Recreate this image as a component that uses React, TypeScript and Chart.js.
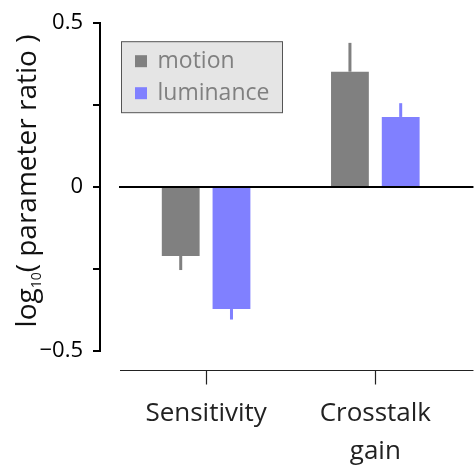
import { useEffect, useRef } from 'react';
import { Chart, registerables } from 'chart.js';

Chart.register(...registerables);

// Categories on a numeric x axis (0, 1) with their printed labels
const categoryPositions = [0, 1];
const categoryLabels = [['Sensitivity'], ['Crosstalk', 'gain']];

// Series: log10 parameter ratios and one-sided error extents
const seriesNames = ['motion', 'luminance'];
const seriesColors = ['#808080', '#8080ff'];
const motionValues = [-0.21, 0.352];
const motionErrors = [0.043, 0.088];
const luminanceValues = [-0.372, 0.214];
const luminanceErrors = [0.032, 0.042];

// Y axis ticks and which of them carry a label
const yTickValues = [-0.5, -0.25, 0, 0.25, 0.5];
const yTickLabels = ['\u22120.5', '', '0', '', '0.5'];

const FONT = "'Open Sans', sans-serif";

const errorsBySeries = [motionErrors, luminanceErrors];

const decorations = {
  id: 'decorations',
  afterDatasetsDraw(chart: any) {
    const { ctx, chartArea } = chart;
    const xs = chart.scales.x;
    const ys = chart.scales.y;
    ctx.save();

    // one-sided error bars extending away from zero
    chart.data.datasets.forEach((ds: any, i: number) => {
      const meta = chart.getDatasetMeta(i);
      const errs = errorsBySeries[i];
      meta.data.forEach((bar: any, j: number) => {
        const v = ds.data[j].y;
        const end = v + Math.sign(v) * errs[j];
        const yEnd = ys.getPixelForValue(end);
        const yStart = ys.getPixelForValue(v);
        ctx.fillStyle = ds.backgroundColor;
        ctx.fillRect(bar.x - 1.5, Math.min(yEnd, yStart), 3, Math.abs(yEnd - yStart));
      });
    });

    // zero reference line
    const y0 = Math.round(ys.getPixelForValue(0));
    ctx.strokeStyle = '#000';
    ctx.lineWidth = 2;
    ctx.beginPath();
    ctx.moveTo(chartArea.left + 19, y0);
    ctx.lineTo(chartArea.right, y0);
    ctx.stroke();

    // detached category axis below the plot
    const axisY = chartArea.bottom + 19.5;
    ctx.lineWidth = 1.2;
    ctx.strokeStyle = '#222';
    ctx.beginPath();
    ctx.moveTo(chartArea.left + 20, axisY);
    ctx.lineTo(chartArea.right, axisY);
    categoryPositions.forEach((p) => {
      const px = Math.round(xs.getPixelForValue(p)) + 0.5;
      ctx.moveTo(px, axisY);
      ctx.lineTo(px, axisY + 14);
    });
    ctx.stroke();
    ctx.restore();
  },
  afterDraw(chart: any) {
    const { ctx, chartArea } = chart;
    ctx.save();

    // legend box
    const bx = chartArea.left + 21.5;
    const by = chartArea.top + 18.5;
    ctx.fillStyle = '#e5e5e5';
    ctx.strokeStyle = '#555';
    ctx.lineWidth = 1;
    ctx.fillRect(bx, by, 161, 71);
    ctx.strokeRect(bx, by, 161, 71);
    ctx.font = `23px ${FONT}`;
    ctx.textBaseline = 'middle';
    chart.data.datasets.forEach((ds: any, i: number) => {
      const cy = by + 19.5 + i * 32;
      ctx.fillStyle = ds.backgroundColor;
      ctx.fillRect(bx + 13.5, cy - 6, 12, 12);
      ctx.fillStyle = '#808080';
      ctx.fillText(ds.label, bx + 36, cy);
    });

    // rotated y-axis title with subscript
    const big = 28;
    const small = 14;
    const parts = [
      { t: 'log', size: big, shift: 0 },
      { t: '10', size: small, shift: 5 },
      { t: '( parameter ratio )', size: big, shift: 0 },
    ];
    let total = 0;
    parts.forEach((p) => {
      ctx.font = `${p.size}px ${FONT}`;
      total += ctx.measureText(p.t).width;
    });
    ctx.translate(36, 181);
    ctx.rotate(-Math.PI / 2);
    ctx.textBaseline = 'alphabetic';
    ctx.fillStyle = '#111';
    let x = -total / 2;
    parts.forEach((p) => {
      ctx.font = `${p.size}px ${FONT}`;
      ctx.fillText(p.t, x, p.shift);
      x += ctx.measureText(p.t).width;
    });
    ctx.restore();
  },
};

export default function App() {
  const canvasRef = useRef<HTMLCanvasElement>(null);

  useEffect(() => {
    if (!canvasRef.current) return;
    const seriesValues = [motionValues, luminanceValues];
    const chart = new Chart(canvasRef.current, {
      type: 'bar',
      data: {
        datasets: seriesNames.map((name, i) => ({
          label: name,
          data: categoryPositions.map((p, j) => ({ x: p, y: seriesValues[i][j] })),
          backgroundColor: seriesColors[i],
          borderWidth: 0,
          categoryPercentage: 0.6,
          barPercentage: 0.745,
        })),
      },
      options: {
        responsive: false,
        animation: false,
        layout: { padding: { top: 19, left: 0, right: 0, bottom: 0 } },
        plugins: {
          legend: { display: false },
          tooltip: { enabled: false },
        },
        scales: {
          x: {
            type: 'linear',
            offset: false,
            min: -0.627,
            max: 1.58,
            grid: { display: false, drawTicks: false, offset: false },
            border: { display: false },
            afterBuildTicks: (scale: any) => {
              scale.ticks = categoryPositions.map((v) => ({ value: v }));
            },
            afterFit: (scale: any) => {
              scale.height = 119;
            },
            ticks: {
              padding: 44,
              maxRotation: 0,
              autoSkip: false,
              color: '#222',
              font: { family: FONT, size: 26, lineHeight: 1.46 },
              callback: (value: any) => categoryLabels[categoryPositions.indexOf(value)],
            },
          },
          y: {
            min: -0.5,
            max: 0.5,
            border: { display: true, color: '#000', width: 2 },
            grid: {
              drawOnChartArea: false,
              drawTicks: true,
              tickLength: 7,
              lineWidth: 2,
              color: '#000',
            },
            afterBuildTicks: (scale: any) => {
              scale.ticks = yTickValues.map((v) => ({ value: v }));
            },
            afterFit: (scale: any) => {
              scale.width = 100;
            },
            ticks: {
              padding: 10,
              color: '#000',
              font: { family: FONT, size: 22 },
              callback: (value: any) => yTickLabels[yTickValues.indexOf(value)],
            },
          },
        },
      },
      plugins: [decorations],
    });
    return () => chart.destroy();
  }, []);

  return (
    <div style={{ position: 'absolute', left: 0, top: 0, width: 475, height: 470, background: '#fff' }}>
      <canvas ref={canvasRef} width={475} height={470} />
    </div>
  );
}
